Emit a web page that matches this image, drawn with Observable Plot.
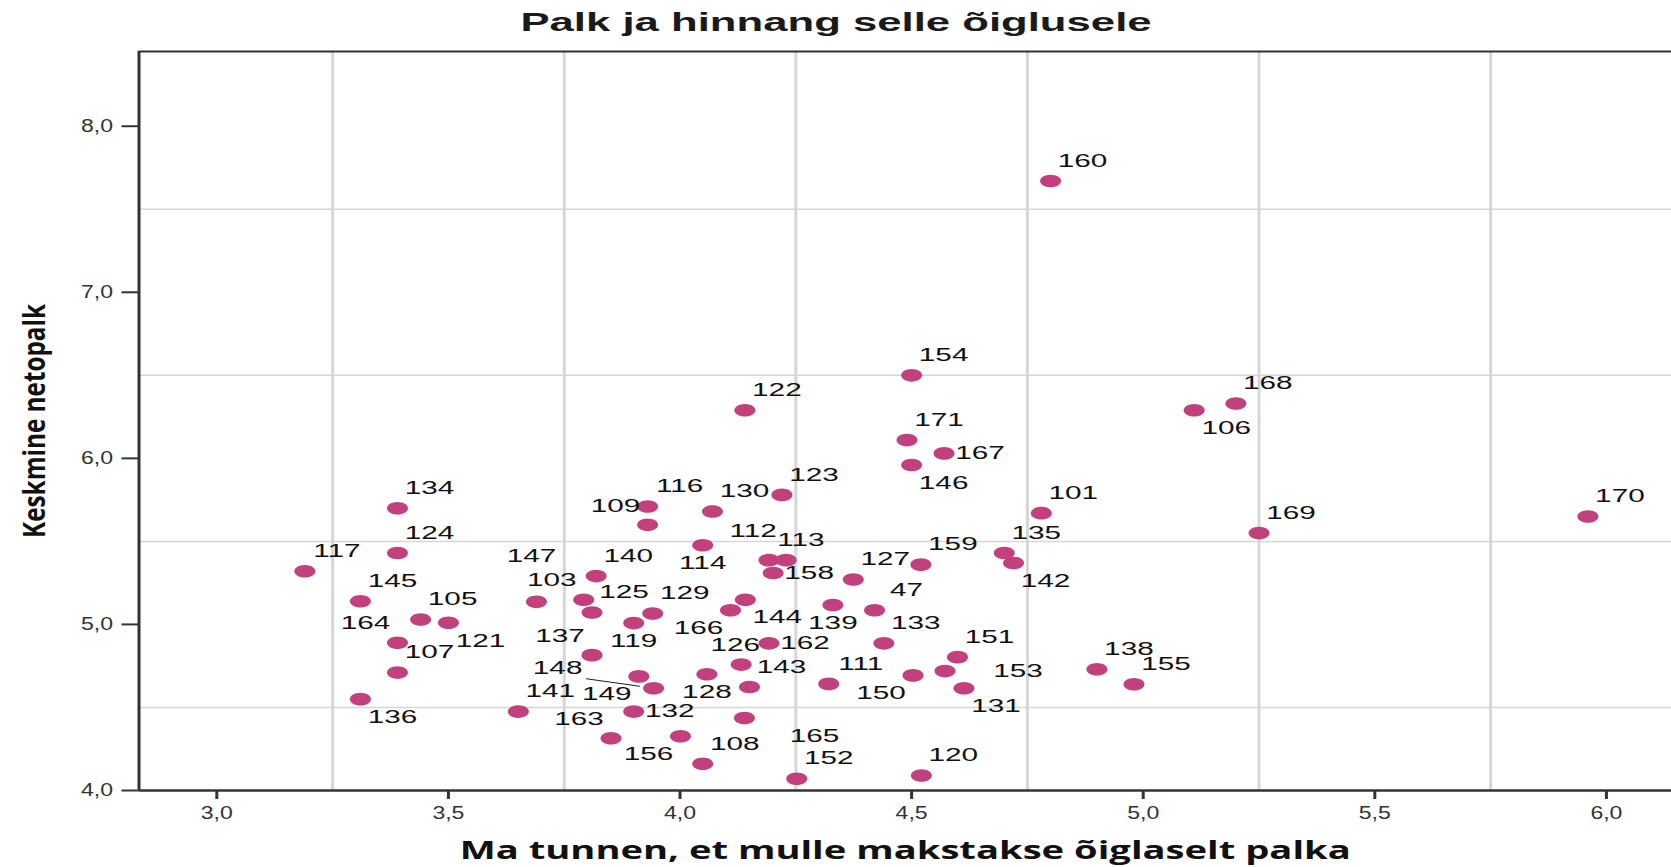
<!DOCTYPE html>
<html><head><meta charset="utf-8">
<script src="https://cdn.jsdelivr.net/npm/d3@7"></script>
<script src="https://cdn.jsdelivr.net/npm/@observablehq/plot@0.6"></script>
<style>
body{margin:0;background:#fff;}
#wrap{position:relative;width:1671px;height:867px;overflow:hidden;background:#fff;}
#title{position:relative;height:45px;}
#title span{position:absolute;left:835.5px;top:22px;transform:translate(-50%,-50%) scaleX(1.68);font:bold 26px "Liberation Sans",Arial,sans-serif;color:#1a1a1a;white-space:nowrap;}
svg{display:block;}
</style></head><body>
<div id="wrap"><div id="title"><span id="tt"></span></div><div id="chart"></div></div>
<script>
const chartTitle = "Palk ja hinnang selle õiglusele";
const xTitle = "Ma tunnen, et mulle makstakse õiglaselt palka";
const yTitle = "Keskmine netopalk";
const xDomain = [2.832, 6.1405];
const yDomain = [4, 8.45];
const xTicks = [3, 3.5, 4, 4.5, 5, 5.5, 6];
const yTicks = [4, 5, 6, 7, 8];
const xGrid = [3.25, 3.75, 4.25, 4.75, 5.25, 5.75];
const yGrid = [4.5, 5.5, 6.5, 7.5];

const ids = ["160","154","122","168","106","171","167","146","123","134",
  "116","109","130","101","169","170","124","117","114","113",
  "112","158","135","142","159","127","140","103","147","125",
  "129","119","137","166","144","162","126","143","128","149",
  "148","141","132","163","156","108","152","120","165","139",
  "47","133","111","150","153","151","131","138","155","145",
  "105","121","164","107","136"];
const xs = [4.80,4.50,4.14,5.20,5.11,4.49,4.57,4.50,4.22,3.39,
  3.93,3.93,4.07,4.78,5.25,5.96,3.39,3.19,4.049,4.192,
  4.229,4.201,4.70,4.72,4.52,4.374,3.819,3.792,3.690,3.810,
  3.941,3.900,3.810,4.109,4.141,4.192,4.132,4.150,4.058,3.911,
  3.943,3.651,3.900,3.851,4.001,4.049,4.252,4.521,4.139,4.330,
  4.420,4.440,4.321,4.503,4.572,4.599,4.613,4.90,4.98,3.31,
  3.44,3.50,3.39,3.39,3.31];
const ys = [7.67,6.50,6.29,6.33,6.29,6.11,6.03,5.96,5.78,5.70,
  5.71,5.60,5.68,5.67,5.55,5.65,5.43,5.32,5.477,5.387,
  5.387,5.310,5.43,5.37,5.36,5.271,5.291,5.149,5.136,5.072,
  5.066,5.008,4.815,5.085,5.149,4.886,4.758,4.623,4.700,4.687,
  4.616,4.475,4.475,4.315,4.327,4.161,4.071,4.090,4.437,5.117,
  5.085,4.886,4.642,4.693,4.719,4.803,4.616,4.73,4.64,5.14,
  5.03,5.01,4.89,4.71,4.55];
const labelPos = ["NE","NE","NE","NE","SE","NE","E","SE","NE","NE",
  "NE","NW","NE","NE","NE","NE","NE","NE","S","NE",
  "NWh","E","NE","SE","NE","NE","NE","NW","N2","NE",
  "NE","S","NW","SW","SE","E","N","NE","S","SW",
  "Wl","NE","E","NW","SW","NE","NE","NE","SE2","S",
  "NE","NE","NE","SW","E2","NE","SE","NE","NE","NE",
  "NE","SE","NW","NE","SE"];

const FONT = '"Liberation Sans", Arial, sans-serif';
const TITLE_FONT = '"Open Sans", sans-serif';
const dotColor = "#c2417d";
const off = {NE:[32,-20], SE:[32,18], NW:[-32,-19], NWh:[-33,-29], SW:[-32,18], E:[36,0], W:[-36,0],
  N:[-6,-19], S:[0,18], N2:[-5,-46], E2:[73,0], SE2:[70,18], Wl:[-96,-20]};

document.getElementById("tt").textContent = chartTitle;
const data = ids.map((id, i) => ({id, x: xs[i], y: ys[i], pos: labelPos[i]}));
const fmt = d => d.toFixed(1).replace(".", ",");
const ellipse = {draw(c) {
  const rx = 10.5, ry = 6.3, k = 0.5523;
  c.moveTo(rx, 0);
  c.bezierCurveTo(rx, ry*k, rx*k, ry, 0, ry);
  c.bezierCurveTo(-rx*k, ry, -rx, ry*k, -rx, 0);
  c.bezierCurveTo(-rx, -ry*k, -rx*k, -ry, 0, -ry);
  c.bezierCurveTo(rx*k, -ry, rx, -ry*k, rx, 0);
  c.closePath();
}};
const leader = {draw(c, l) { c.moveTo(0, -14); c.lineTo(0, -l); }};

const labelMarks = Object.keys(off).map(k => Plot.text(data.filter(d => d.pos === k), {
  x: "x", y: "y", text: "id", dx: off[k][0], dy: off[k][1],
  fontSize: 18, fontFamily: FONT, fill: "#111", ariaDescription: "pointlabels"
}));

const plot = Plot.plot({
  width: 1671, height: 822,
  marginLeft: 138.5, marginRight: 0, marginTop: 6, marginBottom: 77,
  x: {domain: xDomain},
  y: {domain: yDomain},
  style: {fontFamily: FONT, background: "white"},
  marks: [
    Plot.gridX(xGrid, {stroke: "#d6d6d6", strokeOpacity: 1, strokeWidth: 3}),
    Plot.gridY(yGrid, {stroke: "#d6d6d6", strokeOpacity: 1, strokeWidth: 1.5}),
    Plot.ruleY([yDomain[1]], {stroke: "#333", strokeWidth: 2}),
    Plot.ruleX([xDomain[0]], {stroke: "#333", strokeWidth: 3}),
    Plot.ruleY([yDomain[0]], {stroke: "#333", strokeWidth: 2.5}),
    Plot.axisX(xTicks, {tickFormat: () => "", tickSize: 9, color: "#333", strokeWidth: 3, label: null}),
    Plot.axisY(yTicks, {tickFormat: () => "", tickSize: 17, color: "#333", strokeWidth: 2, label: null}),
    Plot.text(xTicks, {x: d => d, text: fmt, frameAnchor: "bottom", dy: 23, lineAnchor: "middle", textAnchor: "middle", fontSize: 18, fontFamily: FONT, fill: "#333", ariaDescription: "ticklabels"}),
    Plot.text(yTicks, {y: d => d, text: fmt, frameAnchor: "left", dx: -26, lineAnchor: "middle", textAnchor: "end", fontSize: 18, fontFamily: FONT, fill: "#333", ariaDescription: "ticklabels"}),
    Plot.text([xTitle], {text: d => d, frameAnchor: "bottom", dy: 68, fontSize: 25, fontWeight: "bold", fontFamily: TITLE_FONT, fill: "#111", ariaDescription: "xtitle"}),
    Plot.text([yTitle], {text: d => d, frameAnchor: "left", dx: -103.5, rotate: -90, textAnchor: "middle", lineAnchor: "middle", fontSize: 30, fontWeight: "bold", fontFamily: TITLE_FONT, fill: "#111", ariaDescription: "ytitle"}),
    Plot.vector(data.filter(d => d.pos === "Wl"), {x: "x", y: "y", length: 68, rotate: 278, anchor: "start", shape: leader, stroke: "#222", strokeWidth: 1}),
    Plot.dot(data, {x: "x", y: "y", symbol: ellipse, r: 8, fill: dotColor, stroke: "none"}),
    ...labelMarks
  ]
});
document.getElementById("chart").appendChild(plot);

const q = s => Array.from(plot.querySelectorAll(s));
// widen glyphs horizontally (the reference is a horizontally stretched image)
function widen(texts, factor, target) {
  texts.forEach(t => {
    const L = t.getComputedTextLength();
    if (L > 0) {
      t.setAttribute("textLength", target ? target : L * factor);
      t.setAttribute("lengthAdjust", "spacingAndGlyphs");
    }
  });
}
widen(q('g[aria-description="pointlabels"] text'), 1.65);
widen(q('g[aria-description="ticklabels"] text'), 1.28);
widen(q('g[aria-description="xtitle"] text'), 1, 891);
widen(q('g[aria-description="ytitle"] text'), 1, 234);
</script>
</body></html>
